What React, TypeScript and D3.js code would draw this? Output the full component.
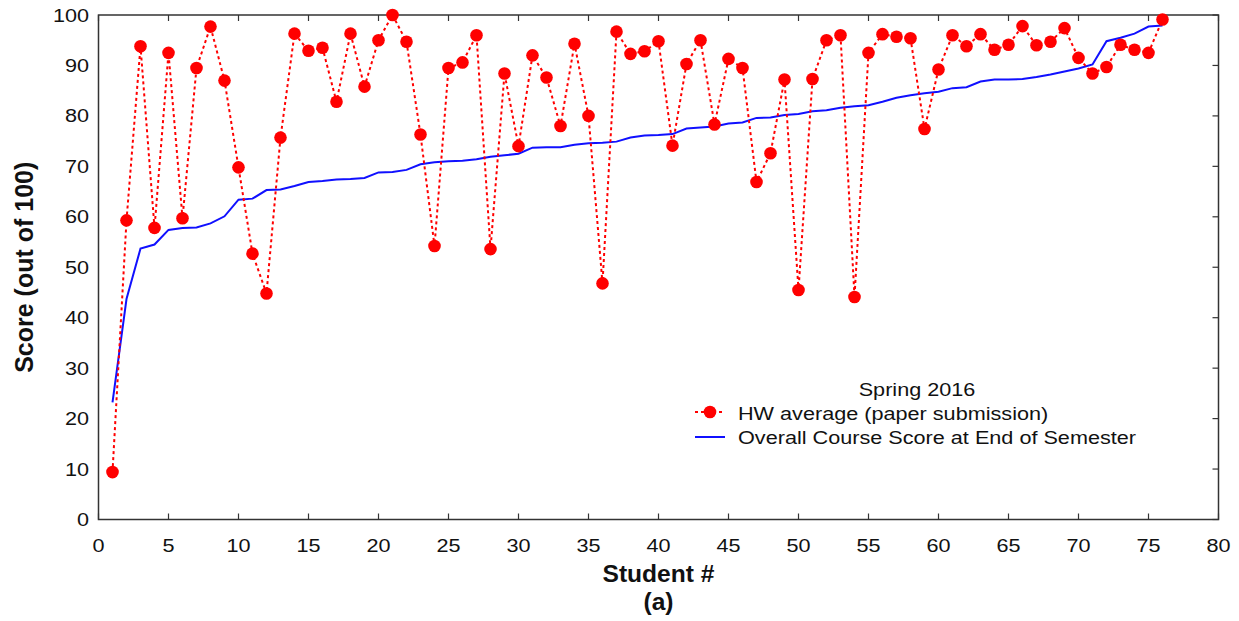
import * as d3 from 'd3';
import type { ReactNode } from 'react';

// student numbers 1..76
const students = d3.range(1, 77);

const hwAverage = [
  9.4, 59.3, 93.8, 57.8, 92.5, 59.7, 89.5, 97.7, 87.0, 69.8,
  52.7, 44.8, 75.7, 96.3, 92.9, 93.5, 82.8, 96.3, 85.8, 95.0,
  100, 94.7, 76.3, 54.2, 89.5, 90.6, 96.0, 53.6, 88.4, 74.0,
  92.0, 87.6, 78.0, 94.3, 80.0, 46.8, 96.7, 92.3, 92.8, 94.8,
  74.1, 90.3, 95.0, 78.3, 91.3, 89.5, 66.9, 72.6, 87.2, 45.5,
  87.3, 95.0, 96.0, 44.1, 92.5, 96.2, 95.7, 95.4, 77.4, 89.2,
  96.0, 93.8, 96.2, 93.1, 94.1, 97.8, 94.0, 94.7, 97.4, 91.5,
  88.4, 89.7, 94.1, 93.1, 92.5, 99.1,
];

const courseScore = [
  23.2, 43.7, 53.7, 54.5, 57.4, 57.8, 57.9, 58.7, 60.1, 63.4,
  63.6, 65.3, 65.4, 66.1, 66.9, 67.1, 67.4, 67.5, 67.7, 68.8,
  68.9, 69.3, 70.4, 70.8, 71.0, 71.1, 71.4, 71.9, 72.2, 72.5,
  73.7, 73.8, 73.8, 74.3, 74.6, 74.7, 74.9, 75.7, 76.1, 76.2,
  76.4, 77.5, 77.7, 77.9, 78.5, 78.7, 79.6, 79.7, 80.2, 80.4,
  80.9, 81.1, 81.6, 81.9, 82.1, 82.8, 83.6, 84.1, 84.5, 84.8,
  85.5, 85.7, 86.8, 87.2, 87.2, 87.3, 87.7, 88.2, 88.8, 89.4,
  90.2, 94.8, 95.5, 96.3, 97.7, 97.9,
];

const xTicks = d3.range(0, 81, 5);
const yTicks = d3.range(0, 101, 10);

const legendTitle = 'Spring 2016';
const seriesNames = ['HW average (paper submission)', 'Overall Course Score at End of Semester'];

const W = 1239;
const H = 621;
const margin = { top: 15, right: 20.5, bottom: 101.5, left: 98.5 };
const font = 'Arial, "Liberation Sans", Helvetica, sans-serif';

type TProps = {
  x: number;
  y: number;
  anchor?: 'start' | 'middle' | 'end';
  size?: number;
  bold?: boolean;
  sx?: number;
  children: ReactNode;
};

// text drawn slightly wider than the font, like the original figure
function T({ x, y, anchor = 'start', size = 18.5, bold = false, sx = 1.17, children }: TProps) {
  return (
    <g transform={`translate(${x},${y}) scale(${sx},1)`}>
      <text textAnchor={anchor} fontFamily={font} fontSize={size} fontWeight={bold ? 'bold' : 'normal'} fill="#111">
        {children}
      </text>
    </g>
  );
}

export default function App() {
  const x = d3.scaleLinear().domain([0, 80]).range([margin.left, W - margin.right]);
  const y = d3.scaleLinear().domain([0, 100]).range([H - margin.bottom, margin.top]);
  const [x0, x1] = x.range();
  const [y0, y1] = y.range();

  const hwLine = d3.line<number>().x((_, i) => x(students[i])).y((d) => y(d));
  const courseLine = d3.line<number>().x((_, i) => x(students[i])).y((d) => y(d));

  const tickLen = 6;
  const axisColor = '#333';

  return (
    <svg width={W} height={H} style={{ position: 'absolute', left: 0, top: 0, background: '#fff' }}>
      {/* frame */}
      <rect x={x0} y={y1} width={x1 - x0} height={y0 - y1} fill="none" stroke={axisColor} strokeWidth={1.5} />

      {/* x ticks: bottom and top, inward */}
      {xTicks.map((t) => (
        <g key={'xt' + t}>
          <line x1={x(t)} x2={x(t)} y1={y0} y2={y0 - tickLen} stroke={axisColor} strokeWidth={1.2} />
          <line x1={x(t)} x2={x(t)} y1={y1} y2={y1 + tickLen} stroke={axisColor} strokeWidth={1.2} />
          <T x={x(t)} y={y0 + 32.5} anchor="middle">
            {t}
          </T>
        </g>
      ))}

      {/* y ticks: right side inward, labels at left */}
      {yTicks.map((t) => (
        <g key={'yt' + t}>
          <line x1={x1} x2={x1 - tickLen} y1={y(t)} y2={y(t)} stroke={axisColor} strokeWidth={1.2} />
          <T x={x0 - 9.5} y={y(t) + 6.5} anchor="end">
            {t}
          </T>
        </g>
      ))}

      {/* series */}
      <path d={courseLine(courseScore) ?? ''} fill="none" stroke="#1010ff" strokeWidth={2} />
      <path d={hwLine(hwAverage) ?? ''} fill="none" stroke="#ff0000" strokeWidth={2} strokeDasharray="3,3" />
      {hwAverage.map((v, i) => (
        <circle key={'p' + i} cx={x(students[i])} cy={y(v)} r={6.3} fill="#ff0000" />
      ))}

      {/* legend */}
      <T x={917} y={396} anchor="middle">
        {legendTitle}
      </T>
      <line x1={695} x2={725} y1={412} y2={412} stroke="#ff0000" strokeWidth={2} strokeDasharray="3,3" />
      <circle cx={710} cy={412} r={6.3} fill="#ff0000" />
      <T x={738} y={419.5}>{seriesNames[0]}</T>
      <line x1={695} x2={725} y1={437} y2={437} stroke="#1010ff" strokeWidth={2} />
      <T x={738} y={444}>{seriesNames[1]}</T>

      {/* axis titles */}
      <text
        transform={`translate(33, ${(y0 + y1) / 2}) rotate(-90)`}
        textAnchor="middle"
        fontFamily={font}
        fontSize={25}
        fontWeight="bold"
        fill="#111"
      >
        Score (out of 100)
      </text>
      <T x={(x0 + x1) / 2} y={582} anchor="middle" size={23} sx={1.07} bold>
        Student #
      </T>
      <T x={(x0 + x1) / 2} y={610} anchor="middle" size={23} sx={1.07} bold>
        (a)
      </T>
    </svg>
  );
}
